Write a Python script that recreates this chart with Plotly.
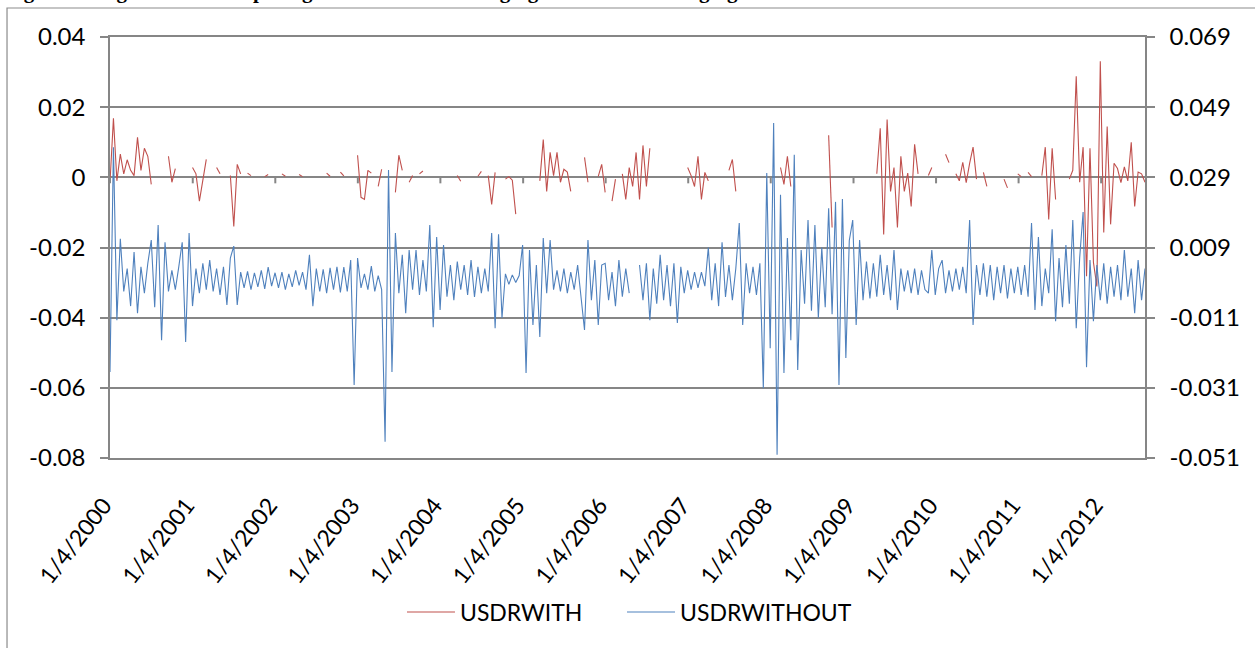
import pandas as pd
import plotly.graph_objects as go

# Sampling grid: twice-monthly points from 4 Jan 2000 to mid-July 2012
START, END, N_POINTS = "2000-01-04", "2012-07-16", 302

# USDRWITH (left axis), None marks days with no value
with_2000 = [-0.0014, 0.0168, -0.0010, 0.0066, 0.0010, 0.0050, 0.0020, 0.0005, 0.0114, 0.0020, 0.0083, 0.0060,
             -0.0020, None, None, None, None, 0.0060, -0.0014, 0.0025, None, None, None, None]
with_2001 = [0.0028, 0.0010, -0.0068, -0.0014, 0.0051, None, None, 0.0028, 0.0010, None, None, 0.0005,
             -0.0140, 0.0037, 0.0010, None, 0.0012, 0.0005, None, None, None, 0.0002, 0.0008, None]
with_2002 = [None, None, 0.0010, 0.0003, None, None, None, 0.0008, 0.0002, None, None, None,
             None, None, None, 0.0012, 0.0003, None, None, 0.0015, 0.0004, None, None, None]
with_2003 = [0.0063, -0.0057, -0.0063, 0.0020, 0.0012, None, -0.0026, 0.0023, None, None, None, -0.0043,
             0.0063, 0.0020, None, -0.0014, 0.0005, None, 0.0010, 0.0018, None, None, None, None]
with_2004 = [None, None, None, None, None, 0.0005, -0.0011, None, None, None, None, 0.0003,
             0.0017, None, 0.0005, -0.0077, 0.0014, None, None, -0.0005, 0.0002, -0.0008, -0.0105, None]
with_2005 = [None, None, None, None, None, -0.0010, 0.0108, -0.0040, 0.0071, 0.0005, 0.0071, -0.0014,
             0.0023, 0.0015, -0.0040, None, None, None, 0.0057, -0.0014, None, None, 0.0003, 0.0037]
with_2006 = [-0.0043, None, -0.0068, -0.0005, None, 0.0010, -0.0063, 0.0028, -0.0026, 0.0071, -0.0063, 0.0091,
             -0.0026, 0.0083, None, None, None, None, None, None, None, None, None, None]
with_2007 = [0.0028, 0.0005, -0.0026, 0.0060, -0.0063, 0.0014, -0.0010, None, None, None, None, None,
             0.0020, 0.0051, -0.0040, None, None, None, None, None, None, None, None, None]
with_2008 = [None, None, None, 0.0028, -0.0020, 0.0060, -0.0026, None, None, None, None, None,
             None, None, None, None, None, 0.0120, -0.0143, None, None, None, None, None]
with_2009 = [None, None, None, None, None, None, None, 0.0010, 0.0140, -0.0163, 0.0165, -0.0040,
             0.0028, -0.0143, 0.0060, -0.0040, 0.0012, -0.0083, 0.0094, 0.0010, None, None, 0.0005, 0.0028]
with_2010 = [None, None, None, 0.0066, 0.0042, None, 0.0010, -0.0010, 0.0043, -0.0015, 0.0040, 0.0086,
             -0.0005, None, 0.0014, -0.0026, None, None, None, None, -0.0005, -0.0030, None, None]
with_2011 = [0.0010, 0.0002, None, 0.0014, 0.0002, None, None, 0.0005, 0.0086, -0.0120, 0.0083, -0.0063,
             None, None, None, -0.0005, 0.0020, 0.0288, -0.0014, 0.0086, -0.0282, 0.0083, -0.0242, -0.0311]
with_2012 = [0.0331, -0.0157, 0.0145, -0.0134, 0.0040, 0.0025, -0.0015, 0.0030, -0.0010, 0.0100, -0.0083, 0.0015,
             0.0010, -0.0014]

# USDRWITHOUT (right axis)
without_2000 = [-0.0265, 0.0376, -0.0117, 0.0115, -0.0035, 0.0030, -0.0077, 0.0077, -0.0097, 0.0035, -0.0040, 0.0045,
                0.0111, -0.0080, 0.0154, -0.0174, 0.0105, -0.0035, 0.0025, -0.0030, 0.0035, 0.0105, -0.0179, 0.0131]
without_2001 = [-0.0077, 0.0030, -0.0040, 0.0045, -0.0030, 0.0054, -0.0035, 0.0030, -0.0045, 0.0035, -0.0074, 0.0060,
                0.0094, -0.0074, 0.0020, -0.0025, 0.0022, -0.0030, 0.0018, -0.0022, 0.0025, -0.0028, 0.0034, -0.0020]
without_2002 = [0.0018, -0.0025, 0.0020, -0.0030, 0.0015, -0.0022, 0.0025, -0.0018, 0.0020, -0.0030, 0.0069, -0.0077,
                0.0030, -0.0035, 0.0028, -0.0040, 0.0032, -0.0030, 0.0035, -0.0038, 0.0034, -0.0035, 0.0054, -0.0302]
without_2003 = [0.0060, -0.0025, 0.0015, -0.0030, 0.0037, -0.0035, 0.0010, -0.0030, -0.0464, 0.0311, -0.0265, 0.0131,
                -0.0040, 0.0069, -0.0097, 0.0083, -0.0030, 0.0083, -0.0045, 0.0054, -0.0035, 0.0154, -0.0137, 0.0120]
without_2004 = [-0.0088, 0.0097, -0.0050, 0.0040, -0.0060, 0.0050, -0.0030, 0.0040, -0.0045, 0.0054, -0.0051, 0.0035,
                -0.0040, 0.0030, -0.0035, 0.0131, -0.0140, 0.0128, -0.0111, 0.0015, -0.0015, 0.0012, -0.0010, 0.0010]
without_2005 = [0.0097, -0.0268, 0.0083, -0.0131, 0.0040, -0.0165, 0.0117, -0.0040, 0.0111, -0.0030, 0.0025, -0.0035,
                0.0030, -0.0040, 0.0020, -0.0030, 0.0040, -0.0050, -0.0145, 0.0111, -0.0060, 0.0054, -0.0131, 0.0040]
without_2006 = [0.0045, -0.0060, 0.0020, -0.0077, 0.0054, -0.0050, 0.0030, -0.0040, None, None, 0.0040, -0.0060,
                0.0045, -0.0117, 0.0030, -0.0070, 0.0069, -0.0060, 0.0040, -0.0077, 0.0045, -0.0125, 0.0035, -0.0040]
without_2007 = [0.0025, -0.0030, 0.0020, -0.0025, 0.0020, -0.0020, 0.0090, -0.0060, 0.0045, -0.0077, 0.0105, -0.0051,
                0.0040, -0.0060, 0.0030, 0.0160, -0.0131, 0.0045, -0.0040, 0.0035, -0.0045, 0.0045, -0.0311, 0.0302]
without_2008 = [-0.0197, 0.0445, -0.0501, 0.0240, -0.0268, 0.0117, -0.0174, 0.0354, -0.0259, 0.0083, -0.0070, 0.0168,
                -0.0090, 0.0154, -0.0110, 0.0090, -0.0080, 0.0202, -0.0100, 0.0220, -0.0302, 0.0228, -0.0225, 0.0110]
without_2009 = [0.0168, -0.0131, 0.0111, -0.0060, 0.0050, -0.0055, 0.0045, -0.0050, 0.0069, -0.0045, 0.0040, -0.0060,
                0.0083, -0.0088, 0.0030, -0.0035, 0.0025, -0.0040, 0.0030, -0.0045, 0.0025, -0.0030, -0.0040, 0.0083]
without_2010 = [-0.0045, 0.0030, 0.0054, -0.0040, 0.0025, -0.0035, 0.0030, -0.0030, 0.0035, -0.0040, 0.0168, -0.0131,
                0.0040, -0.0045, 0.0045, -0.0050, 0.0040, -0.0060, 0.0035, -0.0040, 0.0040, -0.0055, 0.0030, -0.0040]
without_2011 = [0.0035, -0.0045, 0.0040, -0.0050, 0.0160, -0.0088, 0.0120, -0.0077, 0.0030, -0.0040, 0.0142, -0.0120,
                0.0060, -0.0080, 0.0097, -0.0070, 0.0168, -0.0140, 0.0060, 0.0191, -0.0251, 0.0054, -0.0120, 0.0040]
without_2012 = [-0.0060, 0.0045, -0.0070, 0.0035, -0.0050, 0.0040, -0.0060, 0.0083, -0.0050, 0.0030, -0.0097, 0.0054,
                -0.0060, 0.0030]

# Axis ticks
year_ticks = ["2000-01-04", "2001-01-04", "2002-01-04", "2003-01-04", "2004-01-04", "2005-01-04", "2006-01-04",
              "2007-01-04", "2008-01-04", "2009-01-04", "2010-01-04", "2011-01-04", "2012-01-04"]
year_labels = ["1/4/2000", "1/4/2001", "1/4/2002", "1/4/2003", "1/4/2004", "1/4/2005", "1/4/2006",
               "1/4/2007", "1/4/2008", "1/4/2009", "1/4/2010", "1/4/2011", "1/4/2012"]
left_ticks = [-0.08, -0.06, -0.04, -0.02, 0, 0.02, 0.04]
left_labels = ["-0.08", "-0.06", "-0.04", "-0.02", "0", "0.02", "0.04"]
right_ticks = [-0.051, -0.031, -0.011, 0.009, 0.029, 0.049, 0.069]
right_labels = ["-0.051", "-0.031", "-0.011", "0.009", "0.029", "0.049", "0.069"]

usdr_with = (with_2000 + with_2001 + with_2002 + with_2003 + with_2004 + with_2005 + with_2006 +
             with_2007 + with_2008 + with_2009 + with_2010 + with_2011 + with_2012)
usdr_without = (without_2000 + without_2001 + without_2002 + without_2003 + without_2004 + without_2005 +
                without_2006 + without_2007 + without_2008 + without_2009 + without_2010 + without_2011 +
                without_2012)
dates = pd.date_range(START, END, periods=N_POINTS)

GRID = "#868686"
FONT = "Lato"
RED = "#C0504D"
BLUE = "#4F81BD"

fig = go.Figure()
fig.add_trace(go.Scatter(x=dates, y=usdr_with, name="USDRWITH", mode="lines",
                         line=dict(color=RED, width=1.1), connectgaps=False, yaxis="y",
                         legend="legend"))
fig.add_trace(go.Scatter(x=dates, y=usdr_without, name="USDRWITHOUT", mode="lines",
                         line=dict(color=BLUE, width=1.1), connectgaps=False, yaxis="y2",
                         legend="legend2"))

# Category tick marks sit on the zero line of the left axis
shapes = []
for d in year_ticks:
    shapes.append(dict(type="line", xref="x", yref="y", x0=d, x1=d, ysizemode="pixel",
                       yanchor=0, y0=0, y1=-6, line=dict(color=GRID, width=2)))
# Chart-area frame
shapes.append(dict(type="rect", xref="paper", yref="paper", x0=-0.0995, x1=1.3, y0=-1.0, y1=1.0689,
                   line=dict(color="#8c8c8c", width=1.2), fillcolor="rgba(0,0,0,0)", layer="below"))

legend_style = dict(orientation="h", yanchor="middle", y=-0.366, xanchor="left",
                    font=dict(family=FONT, size=23, color="black"), itemwidth=48,
                    bgcolor="rgba(0,0,0,0)")

fig.update_layout(
    width=1255, height=648, autosize=False,
    margin=dict(l=110, r=110, t=37, b=190, pad=0),
    paper_bgcolor="white", plot_bgcolor="white",
    font=dict(family=FONT, size=24, color="black"),
    showlegend=True,
    legend=dict(legend_style, x=0.2821),
    legend2=dict(legend_style, x=0.4947),
    xaxis=dict(type="date", range=[START, END], tickvals=year_ticks, ticktext=year_labels,
               tickangle=-52, tickfont=dict(family=FONT, size=23, color="black"),
               showgrid=False, zeroline=False, showline=True, mirror=True,
               linecolor=GRID, linewidth=1.5, ticks="", ticklabelstandoff=23, ticklabelshift=-6),
    yaxis=dict(range=[-0.08, 0.04], tickvals=left_ticks, ticktext=left_labels,
               showgrid=True, gridcolor=GRID, gridwidth=1.5, zeroline=False,
               showline=True, linecolor=GRID, linewidth=1.5,
               ticks="outside", ticklen=8, tickwidth=1.5, tickcolor=GRID, ticklabelstandoff=10,
               tickfont=dict(family=FONT, size=24, color="black")),
    yaxis2=dict(range=[-0.051, 0.069], tickvals=right_ticks, ticktext=right_labels,
                overlaying="y", side="right", showgrid=False, zeroline=False,
                showline=True, linecolor=GRID, linewidth=1.5,
                ticks="outside", ticklen=8, tickwidth=1.5, tickcolor=GRID, ticklabelstandoff=10,
                tickfont=dict(family=FONT, size=24, color="black")),
    shapes=shapes,
    annotations=[dict(text="<b>Figure 4: Log Returns Comparing USD Rate With Hedging and Without Hedging</b>",
                      xref="paper", yref="paper", x=-0.103, y=1.0765, xanchor="left", yanchor="bottom",
                      showarrow=False, font=dict(family="Liberation Serif", size=21, color="black"))],
)

fig.write_html("out.html")
